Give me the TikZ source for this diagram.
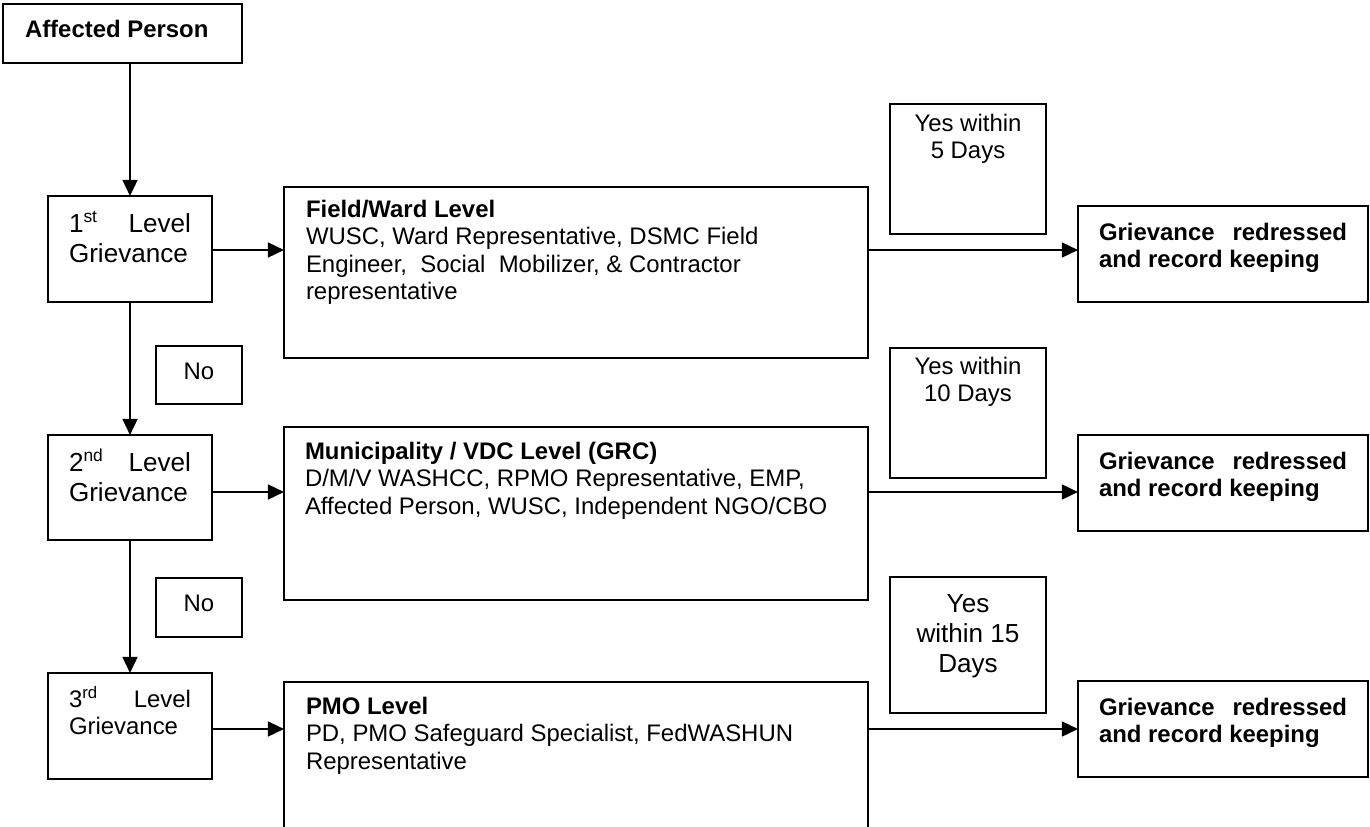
\documentclass[tikz,border=0pt]{standalone}
\usepackage{fontspec}
\setmainfont{Liberation Sans}
\usetikzlibrary{arrows.meta}
\newlength\pxl \setlength\pxl{0.4598pt}
\newcommand\fsA{\fontsize{11}{12.65}\selectfont}
\newcommand\fsB{\fontsize{12}{13.8}\selectfont}
\newcommand\firstrule[1]{\rule{0pt}{#1\pxl}}
\begin{document}
\begin{tikzpicture}[x=0.4598pt, y=-0.4598pt,
  frame/.style={draw, line width=0.65pt, anchor=north west, inner ysep=0pt, outer sep=0pt},
  pad/.style={inner xsep={#1*0.4598pt}},
  arr/.style={line width=1.1pt, -{Triangle[length=7.4pt,width=6.8pt]}}]
\useasboundingbox (0,0) rectangle (1370,826);
\clip (0,0) rectangle (1370,826);
% left column
\node[frame, pad=22] (AP) at (3,4) {\parbox[t][59\pxl][t]{195\pxl}{\fsA\bfseries\firstrule{33}Affected Person}};
\node[frame, pad=21] (L1) at (48,196) {\parbox[t][106\pxl][t]{122\pxl}{\fsB\firstrule{36}1\textsuperscript{st}\hfill Level\\Grievance}};
\node[frame, pad=0] (N1) at (156,346) {\parbox[t][58\pxl][t]{86\pxl}{\centering\fsA\firstrule{33}No}};
\node[frame, pad=21] (L2) at (48,435) {\parbox[t][105\pxl][t]{122\pxl}{\fsB\firstrule{36}2\textsuperscript{nd}\hfill Level\\Grievance}};
\node[frame, pad=0] (N2) at (156,578) {\parbox[t][59\pxl][t]{86\pxl}{\centering\fsA\firstrule{33}No}};
\node[frame, pad=21] (L3) at (48,673) {\parbox[t][106\pxl][t]{122\pxl}{\fsA\firstrule{34}3\textsuperscript{rd}\hfill Level\\Grievance}};
% middle column
\node[frame, pad=22] (F) at (284,187) {\parbox[t][171\pxl][t]{540\pxl}{\fsA\firstrule{30}\textbf{Field/Ward Level}\\WUSC, Ward Representative, DSMC Field\\Engineer,\ \ Social\ \ Mobilizer, \& Contractor\\representative}};
\node[frame, pad=21] (M) at (284,427) {\parbox[t][173\pxl][t]{542\pxl}{\fsA\firstrule{32}\textbf{Municipality / VDC Level (GRC)}\\D/M/V WASHCC, RPMO Representative, EMP,\\Affected Person, WUSC, Independent NGO/CBO}};
\node[frame, pad=22] (P) at (284,682) {\parbox[t][170\pxl][t]{540\pxl}{\fsA\firstrule{32}\textbf{PMO Level}\\PD, PMO Safeguard Specialist, FedWASHUN\\Representative}};
% yes boxes
\node[frame, pad=0] (Y1) at (890,104) {\parbox[t][130\pxl][t]{156\pxl}{\centering\fsA\firstrule{27}Yes within\\5 Days}};
\node[frame, pad=0] (Y2) at (890,348) {\parbox[t][130\pxl][t]{156\pxl}{\centering\fsA\firstrule{26}Yes within\\10 Days}};
\node[frame, pad=0] (Y3) at (890,577) {\parbox[t][136\pxl][t]{156\pxl}{\centering\fsB\firstrule{35}Yes\\within 15\\Days}};
% right column
\node[frame, pad=21] (G1) at (1078,206) {\parbox[t][96\pxl][t]{248\pxl}{\fsA\bfseries\firstrule{34}Grievance\hfill redressed\\and record keeping}};
\node[frame, pad=21] (G2) at (1078,435) {\parbox[t][96\pxl][t]{248\pxl}{\fsA\bfseries\firstrule{34}Grievance\hfill redressed\\and record keeping}};
\node[frame, pad=21] (G3) at (1078,681) {\parbox[t][96\pxl][t]{248\pxl}{\fsA\bfseries\firstrule{34}Grievance\hfill redressed\\and record keeping}};
% connectors
\coordinate (r1) at (0,250);
\coordinate (r2) at (0,492);
\coordinate (r3) at (0,729);
\draw[arr] (L1.north |- AP.south) -- (L1.north);
\draw[arr] (L1.south) -- (L2.north);
\draw[arr] (L2.south) -- (L3.north);
\draw[arr] (L1.east |- r1) -- (F.west |- r1);
\draw[arr] (F.east |- r1) -- (G1.west |- r1);
\draw[arr] (L2.east |- r2) -- (M.west |- r2);
\draw[arr] (M.east |- r2) -- (G2.west |- r2);
\draw[arr] (L3.east |- r3) -- (P.west |- r3);
\draw[arr] (P.east |- r3) -- (G3.west |- r3);
\end{tikzpicture}
\end{document}
